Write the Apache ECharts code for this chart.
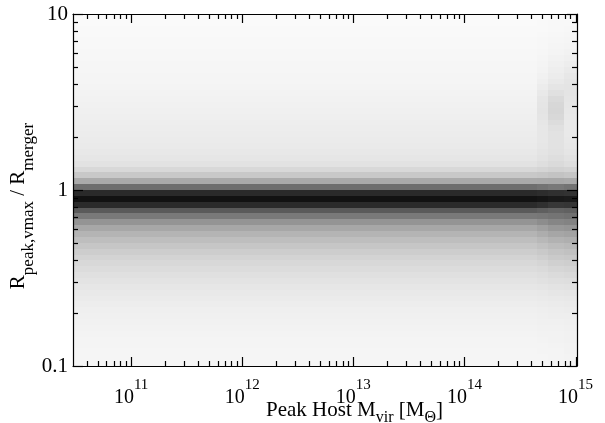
<!DOCTYPE html>
<html><head><meta charset="utf-8">
<script src="https://cdn.jsdelivr.net/npm/echarts@6/dist/echarts.min.js"></script>
<style>html,body{margin:0;padding:0;background:#fff}#c{width:605px;height:423px}</style>
</head><body><div id="c"></div>
<script>
// Density shade per y-bin (0 = white, 255 = black), listed outward from ratio = 1
// "Below" = bins under 1 (going down), "Above" = bins over 1 (going up); 30 bins per decade
const mainBelow  = [213,237,212,165,134,107,88,75,65,57,50,44,39,35,31,28,25,22,20,18,16,15,14,13,12,11,11,10,10,10];
const mainAbove  = [145,85,55,39,29,25,23,21,20,19,18,17,16,15,14,13,12,11,10,10,9,9,8,8,7,7,6,6,5,5];
const transBelow = [210,234,207,160,136,114,95,82,71,62,54,48,42,37,33,30,26,23,21,19,17,16,15,14,13,12,11,11,10,10];
const transAbove = [140,86,57,42,33,29,27,25,24,24,24,25,26,27,26,25,22,19,16,14,12,11,10,9,8,8,7,6,6,5];
const edgeABelow = [207,230,200,155,139,121,103,89,77,67,59,53,47,41,36,32,28,25,22,20,18,17,15,14,13,13,12,11,11,11];
const edgeAAbove = [135,87,60,45,37,33,30,29,29,29,31,35,39,41,40,37,31,26,22,19,17,15,13,11,10,9,8,7,7,6];
const edgeBBelow = [205,228,202,158,142,124,106,92,80,70,62,55,49,43,38,33,29,26,23,21,19,17,16,15,14,14,13,13,12,12];
const edgeBAbove = [140,85,57,43,33,29,26,24,23,22,22,22,23,24,25,26,27,27,26,24,21,18,15,13,11,10,9,8,7,6];

// log10(M) where the column profile changes: main | trans | edgeA | edgeB
const columnGroupEdges = [14.65, 14.75, 14.90];
const xBinStart = 10.45, xBinWidth = 0.05, xBinCount = 92;
const yBinsPerDecade = 30;

// axis ranges and ticks
const xMin = 3e10, xMax = 1.03e15, yMin = 0.1, yMax = 10;
const xTickMajor = [1e11, 1e12, 1e13, 1e14, 1e15];
const xTickMinor = [4e10,5e10,6e10,7e10,8e10,9e10,
  2e11,3e11,4e11,5e11,6e11,7e11,8e11,9e11,
  2e12,3e12,4e12,5e12,6e12,7e12,8e12,9e12,
  2e13,3e13,4e13,5e13,6e13,7e13,8e13,9e13,
  2e14,3e14,4e14,5e14,6e14,7e14,8e14,9e14];
const yTickMajor = [0.1, 1, 10];
const yTickMinor = [0.2,0.3,0.4,0.5,0.6,0.7,0.8,0.9,2,3,4,5,6,7,8,9];

const FONT = 'Liberation Serif';

// build cells
const cells = [];
for (let k = 0; k < xBinCount; k++) {
  const lx0 = xBinStart + k * xBinWidth, lx1 = lx0 + xBinWidth, c = lx0 + xBinWidth / 2;
  let below, above;
  if (c < columnGroupEdges[0]) { below = mainBelow; above = mainAbove; }
  else if (c < columnGroupEdges[1]) { below = transBelow; above = transAbove; }
  else if (c < columnGroupEdges[2]) { below = edgeABelow; above = edgeAAbove; }
  else { below = edgeBBelow; above = edgeBAbove; }
  for (let j = 1; j <= 30; j++) {
    cells.push([Math.pow(10, lx0), Math.pow(10, lx1), Math.pow(10, -j / yBinsPerDecade), Math.pow(10, -(j - 1) / yBinsPerDecade), below[j - 1]]);
    cells.push([Math.pow(10, lx0), Math.pow(10, lx1), Math.pow(10, (j - 1) / yBinsPerDecade), Math.pow(10, j / yBinsPerDecade), above[j - 1]]);
  }
}
const xTickData = xTickMajor.map(v => [v, yMin, 1]).concat(xTickMinor.map(v => [v, yMin, 0]));
const yTickData = yTickMajor.map(v => [xMin, v, 1]).concat(yTickMinor.map(v => [xMin, v, 0]));

function renderCell(params, api) {
  const p0 = api.coord([api.value(0), api.value(2)]);
  const p1 = api.coord([api.value(1), api.value(3)]);
  const cs = params.coordSys;
  const x0 = Math.max(Math.round(p0[0]), cs.x), x1 = Math.min(Math.round(p1[0]), cs.x + cs.width);
  const y0 = Math.max(Math.round(p1[1]), cs.y), y1 = Math.min(Math.round(p0[1]), cs.y + cs.height);
  if (x1 <= x0 || y1 <= y0) return null;
  return { type: 'rect', shape: { x: x0, y: y0, width: x1 - x0, height: y1 - y0 }, style: { fill: api.visual('color') } };
}
function renderXTick(params, api) {
  const cs = params.coordSys;
  const x = Math.round(api.coord([api.value(0), yMin])[0]) + 0.5;
  const len = api.value(2) ? 9 : 5;
  const b = cs.y + cs.height, t = cs.y;
  return { type: 'group', children: [
    { type: 'line', shape: { x1: x, y1: b, x2: x, y2: b - len }, style: { stroke: '#000', lineWidth: 1.2 } },
    { type: 'line', shape: { x1: x, y1: t, x2: x, y2: t + len }, style: { stroke: '#000', lineWidth: 1.2 } }
  ]};
}
function renderYTick(params, api) {
  const cs = params.coordSys;
  const y = Math.round(api.coord([xMin, api.value(1)])[1]) + 0.5;
  const len = api.value(2) ? 10 : 5;
  const l = cs.x, r = cs.x + cs.width;
  return { type: 'group', children: [
    { type: 'line', shape: { x1: l, y1: y, x2: l + len, y2: y }, style: { stroke: '#000', lineWidth: 1.2 } },
    { type: 'line', shape: { x1: r, y1: y, x2: r - len, y2: y }, style: { stroke: '#000', lineWidth: 1.2 } }
  ]};
}

const chart = echarts.init(document.getElementById('c'), null, { renderer: 'canvas' });
const lineStyle = { color: '#000', width: 1.2 };
chart.setOption({
  backgroundColor: '#fff',
  animation: false,
  grid: { left: 73, right: 28, top: 14, bottom: 57, containLabel: false, outerBoundsMode: 'none' },
  visualMap: { type: 'continuous', show: false, min: 0, max: 255, dimension: 4, seriesIndex: 0,
    inRange: { color: ['#ffffff', '#000000'] } },
  xAxis: [{
    type: 'log', logBase: 10, min: xMin, max: xMax, position: 'bottom', z: 10,
    axisLine: { show: true, lineStyle }, axisTick: { show: false }, splitLine: { show: false },
    axisLabel: {
      margin: 12, color: '#000',
      formatter: function (v) {
        const e = Math.log10(v);
        if (Math.abs(e - Math.round(e)) < 1e-6) return '{b|10}{sup|' + Math.round(e) + '}';
        return '';
      },
      rich: {
        b: { fontFamily: FONT, fontSize: 20, lineHeight: 30, verticalAlign: 'bottom', color: '#000' },
        sup: { fontFamily: FONT, fontSize: 15, verticalAlign: 'top', color: '#000' }
      }
    },
    name: '{b|Peak Host M}{s|vir}{b| [M}{s|Θ}{b|]}',
    nameLocation: 'middle', nameGap: 34, nameMoveOverlap: false,
    nameTextStyle: { padding: [0, 0, 0, 59], rich: {
      b: { fontFamily: FONT, fontSize: 21, lineHeight: 26, verticalAlign: 'top', color: '#000' },
      s: { fontFamily: FONT, fontSize: 16, verticalAlign: 'bottom', color: '#000' }
    }}
  }, {
    type: 'log', logBase: 10, min: xMin, max: xMax, position: 'top', z: 10,
    axisLine: { show: true, lineStyle }, axisTick: { show: false }, axisLabel: { show: false }, splitLine: { show: false }
  }],
  yAxis: [{
    type: 'log', logBase: 10, min: yMin, max: yMax, position: 'left', z: 10,
    axisLine: { show: true, lineStyle }, axisTick: { show: false }, splitLine: { show: false },
    axisLabel: { margin: 5, color: '#000', fontFamily: FONT, fontSize: 21,
      formatter: v => String(+(+v).toPrecision(3)) },
    name: '{b|R}{s|peak,vmax}{b| / R}{s|merger}',
    nameLocation: 'middle', nameRotate: 90, nameGap: 36, nameMoveOverlap: false,
    nameTextStyle: { padding: [0, 32, 0, 0], rich: {
      b: { fontFamily: FONT, fontSize: 21, lineHeight: 29, verticalAlign: 'top', color: '#000' },
      s: { fontFamily: FONT, fontSize: 17, verticalAlign: 'bottom', color: '#000' }
    }}
  }, {
    type: 'log', logBase: 10, min: yMin, max: yMax, position: 'right', z: 10,
    axisLine: { show: true, lineStyle }, axisTick: { show: false }, axisLabel: { show: false }, splitLine: { show: false }
  }],
  series: [
    { type: 'custom', name: 'density', xAxisIndex: 0, yAxisIndex: 0, renderItem: renderCell,
      encode: { x: [0, 1], y: [2, 3] }, data: cells, silent: true, z: 1 },
    { type: 'custom', name: 'xticks', xAxisIndex: 0, yAxisIndex: 0, renderItem: renderXTick,
      encode: { x: 0, y: 1 }, data: xTickData, silent: true, z: 5, clip: false },
    { type: 'custom', name: 'yticks', xAxisIndex: 0, yAxisIndex: 0, renderItem: renderYTick,
      encode: { x: 0, y: 1 }, data: yTickData, silent: true, z: 5, clip: false }
  ]
});
</script></body></html>
